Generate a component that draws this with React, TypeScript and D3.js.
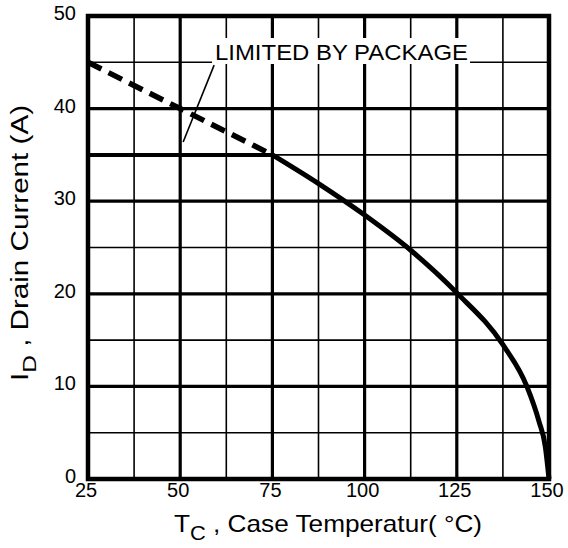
import React, { useRef, useEffect } from 'react';
import * as d3 from 'd3';

// chart data
const xTicks = [25, 50, 75, 100, 125, 150];
const yTicks = [0, 10, 20, 30, 40, 50];
const xMinor = [37.5, 62.5, 87.5, 112.5, 137.5];
const yMinor = [5, 15, 25, 35, 45];
// derating curve Tc (°C) vs Id (A)
const deratingT = [75, 87.5, 100, 112.5, 125, 137.5, 144, 147.3, 149, 150];
const deratingI = [35, 31.9, 28.5, 24.7, 20.1, 14.5, 10, 6.2, 3.5, 0];
// package limit (flat) and the dashed silicon limit above it
const packageT = [25, 75];
const packageI = [35, 35];
const siliconT = [25, 75];
const siliconI = [45, 35];
// leader line of the annotation
const leaderT = [59.2, 50.8];
const leaderI = [44.7, 36.4];

const width = 568;
const height = 548;
const font = '"Liberation Sans", Arial, sans-serif';

export default function App() {
  const svgRef = useRef<SVGSVGElement>(null);

  useEffect(() => {
    const svg = d3.select(svgRef.current);
    svg.selectAll('*').remove();

    const x = d3.scaleLinear().domain([25, 150]).range([88, 549]);
    const y = d3.scaleLinear().domain([0, 50]).range([479, 16]);

    const line = d3
      .line<[number, number]>()
      .x(d => x(d[0]))
      .y(d => y(d[1]));
    const smooth = d3
      .line<[number, number]>()
      .curve(d3.curveMonotoneX)
      .x(d => x(d[0]))
      .y(d => y(d[1]));

    // grid
    const grid = svg.append('g');
    grid
      .selectAll('line.vmin')
      .data(xMinor)
      .join('line')
      .attr('x1', d => x(d))
      .attr('x2', d => x(d))
      .attr('y1', y(0))
      .attr('y2', y(50))
      .attr('stroke', '#000')
      .attr('stroke-width', 1.6);
    grid
      .selectAll('line.hmin')
      .data(yMinor)
      .join('line')
      .attr('x1', x(25))
      .attr('x2', x(150))
      .attr('y1', d => y(d))
      .attr('y2', d => y(d))
      .attr('stroke', '#000')
      .attr('stroke-width', 1.6);
    grid
      .selectAll('line.vmaj')
      .data(xTicks.slice(1, -1))
      .join('line')
      .attr('x1', d => x(d))
      .attr('x2', d => x(d))
      .attr('y1', y(0))
      .attr('y2', y(50))
      .attr('stroke', '#000')
      .attr('stroke-width', 3.2);
    grid
      .selectAll('line.hmaj')
      .data(yTicks.slice(1, -1))
      .join('line')
      .attr('x1', x(25))
      .attr('x2', x(150))
      .attr('y1', d => y(d))
      .attr('y2', d => y(d))
      .attr('stroke', '#000')
      .attr('stroke-width', 3.2);

    // frame
    svg
      .append('rect')
      .attr('x', x(25))
      .attr('y', y(50))
      .attr('width', x(150) - x(25))
      .attr('height', y(0) - y(50))
      .attr('fill', 'none')
      .attr('stroke', '#000')
      .attr('stroke-width', 4.5);

    // annotation (white box hides the grid behind the text)
    svg
      .append('rect')
      .attr('x', 212)
      .attr('y', 38)
      .attr('width', 258)
      .attr('height', 26)
      .attr('fill', '#fff');
    svg
      .append('text')
      .attr('x', 215)
      .attr('y', 60)
      .attr('font-family', font)
      .attr('font-size', 22)
      .attr('textLength', 253)
      .attr('lengthAdjust', 'spacingAndGlyphs')
      .text('LIMITED BY PACKAGE');
    svg
      .append('path')
      .datum(d3.zip(leaderT, leaderI) as [number, number][])
      .attr('d', line)
      .attr('fill', 'none')
      .attr('stroke', '#000')
      .attr('stroke-width', 1.6);

    // curves
    svg
      .append('path')
      .datum(d3.zip(siliconT, siliconI) as [number, number][])
      .attr('d', line)
      .attr('fill', 'none')
      .attr('stroke', '#000')
      .attr('stroke-width', 5.5)
      .attr('stroke-dasharray', '15,8');
    svg
      .append('path')
      .datum(d3.zip(packageT, packageI) as [number, number][])
      .attr('d', line)
      .attr('fill', 'none')
      .attr('stroke', '#000')
      .attr('stroke-width', 4);
    svg
      .append('path')
      .datum(d3.zip(deratingT, deratingI) as [number, number][])
      .attr('d', smooth)
      .attr('fill', 'none')
      .attr('stroke', '#000')
      .attr('stroke-width', 5)
      .attr('stroke-linejoin', 'round');

    // tick labels
    svg
      .selectAll('text.yt')
      .data(yTicks)
      .join('text')
      .attr('x', 76)
      .attr('y', d => y(d) + 4)
      .attr('text-anchor', 'end')
      .attr('font-family', font)
      .attr('font-size', 20)
      .text(d => d);
    svg
      .selectAll('text.xt')
      .data(xTicks)
      .join('text')
      .attr('x', d => x(d) - 2)
      .attr('y', 497)
      .attr('text-anchor', 'middle')
      .attr('font-family', font)
      .attr('font-size', 20)
      .text(d => d);

    // axis titles
    const xt = svg
      .append('text')
      .attr('x', 174)
      .attr('y', 532)
      .attr('font-family', font)
      .attr('font-size', 24)
      .attr('textLength', 308)
      .attr('lengthAdjust', 'spacingAndGlyphs');
    xt.append('tspan').text('T');
    xt.append('tspan').attr('font-size', 20).attr('dy', 8).text('C');
    xt.append('tspan').attr('dy', -8).text(' , Case Temperatur( ');
    xt.append('tspan').text('°C)');

    const yt = svg
      .append('text')
      .attr('transform', 'translate(28,381) rotate(-90)')
      .attr('font-family', font)
      .attr('font-size', 23)
      .attr('textLength', 276)
      .attr('lengthAdjust', 'spacingAndGlyphs');
    yt.append('tspan').text('I');
    yt.append('tspan').attr('font-size', 19).attr('dy', 8).text('D');
    yt.append('tspan').attr('dy', -8).text(' , Drain Current (A)');
  }, []);

  return (
    <svg
      ref={svgRef}
      width={width}
      height={height}
      style={{ position: 'absolute', left: 0, top: 0, background: '#fff' }}
    />
  );
}
